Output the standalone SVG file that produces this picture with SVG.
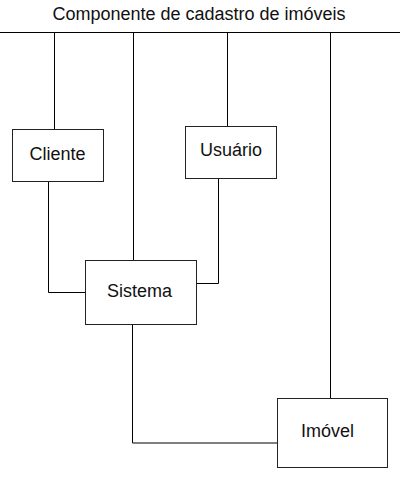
<svg xmlns="http://www.w3.org/2000/svg" width="400" height="500" viewBox="0 0 400 500">
<style>
.box{fill:#fff;stroke:#222;stroke-width:1}
.ln{fill:none;stroke:#000;stroke-width:1}
text{font-family:"Liberation Sans",Arial,sans-serif;font-size:18px;fill:#111;text-anchor:middle}
</style>
<rect width="400" height="500" fill="#fff"/>
<text x="199" y="20">Componente de cadastro de imóveis</text>
<g id="connectors">
<path class="ln" d="M0 32.5H400"/>
<path class="ln" d="M54.5 32.5V129.5"/>
<path class="ln" d="M133.5 32.5V260.5"/>
<path class="ln" d="M227.5 32.5V126.5"/>
<path class="ln" d="M330.5 32.5V398.5"/>
<path class="ln" d="M48.5 181.5V292.5H85.5"/>
<path class="ln" d="M218.5 178.5V283.5H197"/>
<path class="ln" d="M132.5 324.5V443H277.5"/>
</g>
<g id="cliente"><rect class="box" x="12.5" y="129.5" width="91" height="52"/><text x="57.5" y="160">Cliente</text></g>
<g id="usuario"><rect class="box" x="185.5" y="126.5" width="91" height="52"/><text x="231" y="156">Usuário</text></g>
<g id="sistema"><rect class="box" x="85.5" y="260.5" width="111" height="64"/><text x="139.5" y="297">Sistema</text></g>
<g id="imovel"><rect class="box" x="277.5" y="398.5" width="110" height="69"/><text x="327.5" y="437">Imóvel</text></g>
</svg>
